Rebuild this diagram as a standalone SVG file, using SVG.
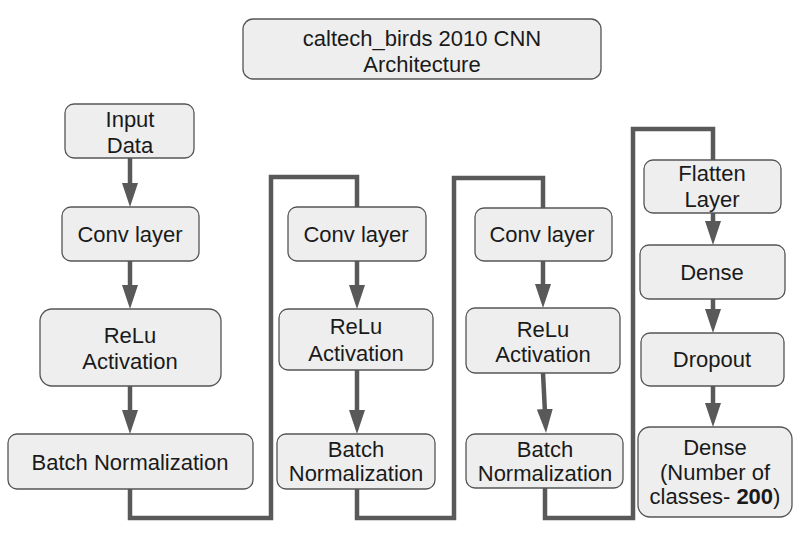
<svg xmlns="http://www.w3.org/2000/svg" width="806" height="546" viewBox="0 0 806 546">
<defs>
<style>
.box{fill:#eeeeee;stroke:#555555;stroke-width:1.3}
.t{font-family:"Liberation Sans",Arial,sans-serif;font-size:22px;fill:#1a1a1a;text-anchor:middle}
.c{fill:none;stroke:#595959;stroke-width:4.5;stroke-linejoin:miter}
</style>
<marker id="ah" markerUnits="userSpaceOnUse" viewBox="0 0 24 16" markerWidth="24" markerHeight="16" refX="14" refY="8" orient="auto">
<path d="M0,0 L24,8 L0,16 z" fill="#595959"/>
</marker>
</defs>
<rect width="806" height="546" fill="#ffffff"/>
<g id="connectors">
<path class="c" d="M130,158 V197" marker-end="url(#ah)"/>
<path class="c" d="M130,261 V299" marker-end="url(#ah)"/>
<path class="c" d="M130,386 V424" marker-end="url(#ah)"/>
<path class="c" d="M130,489 V518 H271 V177 H357 V207"/>
<path class="c" d="M357,261 V299" marker-end="url(#ah)"/>
<path class="c" d="M357,370 V424" marker-end="url(#ah)"/>
<path class="c" d="M357,489 V518 H454 V178 H543 V208"/>
<path class="c" d="M543,261 V298" marker-end="url(#ah)"/>
<path class="c" d="M543,373 L545.5,423" marker-end="url(#ah)"/>
<path class="c" d="M545,488 V518 H633 V129 H713 V160"/>
<path class="c" d="M713,213 V235" marker-end="url(#ah)"/>
<path class="c" d="M713,299 V323" marker-end="url(#ah)"/>
<path class="c" d="M713,386 V417" marker-end="url(#ah)"/>
</g>
<g id="title">
<rect class="box" x="243" y="19" width="358" height="60" rx="10"/>
<text class="t" x="422" y="46">caltech_birds 2010 CNN</text>
<text class="t" x="422" y="72">Architecture</text>
</g>
<g id="input">
<rect class="box" x="65" y="104" width="129" height="54" rx="9"/>
<text class="t" x="130" y="127">Input</text>
<text class="t" x="130" y="153">Data</text>
</g>
<g id="conv1">
<rect class="box" x="62" y="207" width="137" height="54" rx="9"/>
<text class="t" x="130" y="242">Conv layer</text>
</g>
<g id="relu1">
<rect class="box" x="40" y="309" width="181" height="77" rx="12"/>
<text class="t" x="130" y="343">ReLu</text>
<text class="t" x="130" y="369">Activation</text>
</g>
<g id="bn1">
<rect class="box" x="8" y="434" width="245" height="55" rx="9"/>
<text class="t" x="130" y="470">Batch Normalization</text>
</g>
<g id="conv2">
<rect class="box" x="288" y="207" width="138" height="54" rx="9"/>
<text class="t" x="356" y="242">Conv layer</text>
</g>
<g id="relu2">
<rect class="box" x="279" y="309" width="154" height="61" rx="9"/>
<text class="t" x="356" y="334">ReLu</text>
<text class="t" x="356" y="361">Activation</text>
</g>
<g id="bn2">
<rect class="box" x="277" y="434" width="158" height="55" rx="9"/>
<text class="t" x="356" y="457">Batch</text>
<text class="t" x="356" y="481">Normalization</text>
</g>
<g id="conv3">
<rect class="box" x="475" y="208" width="137" height="53" rx="9"/>
<text class="t" x="542" y="242">Conv layer</text>
</g>
<g id="relu3">
<rect class="box" x="466" y="308" width="154" height="65" rx="9"/>
<text class="t" x="543" y="337">ReLu</text>
<text class="t" x="543" y="362">Activation</text>
</g>
<g id="bn3">
<rect class="box" x="466" y="434" width="157" height="54" rx="9"/>
<text class="t" x="545" y="457">Batch</text>
<text class="t" x="545" y="481">Normalization</text>
</g>
<g id="flatten">
<rect class="box" x="644" y="160" width="137" height="53" rx="9"/>
<text class="t" x="712" y="181">Flatten</text>
<text class="t" x="712" y="207">Layer</text>
</g>
<g id="dense1">
<rect class="box" x="640" y="245" width="145" height="54" rx="9"/>
<text class="t" x="712" y="280">Dense</text>
</g>
<g id="dropout">
<rect class="box" x="641" y="333" width="143" height="53" rx="9"/>
<text class="t" x="712" y="367">Dropout</text>
</g>
<g id="dense2">
<rect class="box" x="638" y="427" width="154" height="90" rx="12"/>
<text class="t" x="715" y="455">Dense</text>
<text class="t" x="715" y="480">(Number of</text>
<text class="t" x="715" y="504">classes- <tspan font-weight="bold">200</tspan>)</text>
</g>
</svg>
